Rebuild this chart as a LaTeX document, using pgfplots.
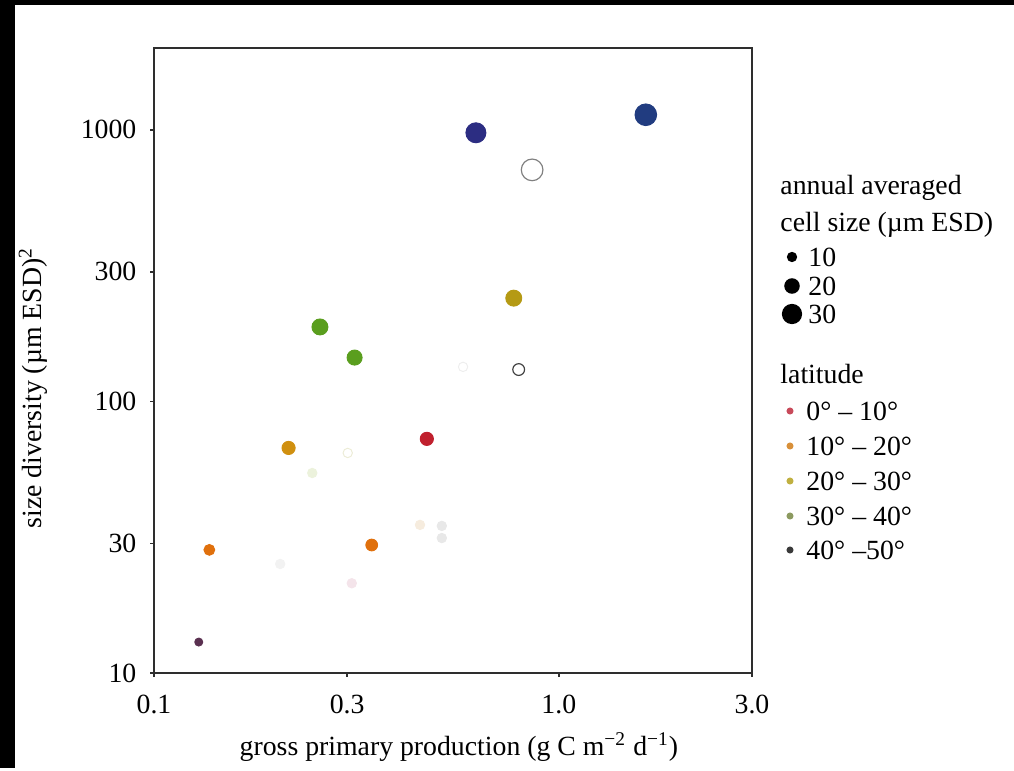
\documentclass[border=0pt]{standalone}
\usepackage{pgfplots}
\pgfplotsset{compat=1.18}
\usepackage{fontspec}
\setmainfont{Liberation Serif}

\definecolor{axisgray}{HTML}{2E2E2E}
\definecolor{navyA}{HTML}{2C2D82}
\definecolor{navyB}{HTML}{213C80}
\definecolor{olivegold}{HTML}{B59A14}
\definecolor{leafgreen}{HTML}{5A9E1E}
\definecolor{crimson}{HTML}{C0202E}
\definecolor{ambergold}{HTML}{D09010}
\definecolor{tangerine}{HTML}{E0700C}
\definecolor{plum}{HTML}{5A3050}
% latitude legend
\definecolor{latA}{HTML}{C84A5A}
\definecolor{latB}{HTML}{D8903A}
\definecolor{latC}{HTML}{C0B040}
\definecolor{latD}{HTML}{8C9A60}
\definecolor{latE}{HTML}{3A3A3A}

\begin{document}
\fontsize{11.8}{14}\selectfont
\begin{tikzpicture}
% page frame (1 px = 0.425pt, origin = top left of the image)
\begin{scope}[shift={(-65.45pt,286.025pt)}, x=0.425pt, y=-0.425pt]
\path[use as bounding box] (0,0) rectangle (1014,768);
\fill[black] (0,0) rectangle (15,768);
\fill[black] (0,0) rectangle (1014,5);
\end{scope}

\begin{axis}[
    at={(0,0)}, anchor=south west,
    scale only axis,
    width=254.15pt, height=265.6pt,
    xmode=log, ymode=log,
    xmin=0.1, xmax=3, ymin=10, ymax=2000,
    xtick={0.1,0.3,1,3}, xticklabels={0.1,0.3,1.0,3.0},
    ytick={10,30,100,300,1000}, yticklabels={10,30,100,300,1000},
    minor xtick={}, minor ytick={},
    tick align=outside, xtick pos=left, ytick pos=left,
    major tick length=1.7pt,
    axis line style={axisgray, line width=0.9pt},
    tick style={axisgray, line width=0.6pt},
    xticklabel shift=3.5pt, yticklabel shift=1.7pt,
    xlabel={gross primary production (g C m\textsuperscript{−2} d\textsuperscript{−1})},
    ylabel={size diversity (µm ESD)\textsuperscript{2}},
    xlabel style={at={(axis description cs:0.51,-0.118)}, anchor=center},
    ylabel style={at={(axis description cs:-0.202,0.456)}, anchor=center},
    clip=false,
]
% barely visible points
\addplot[only marks, mark=*, mark size=2pt, mark options={draw={rgb,255:red,238;green,238;blue,238}, fill=white}] coordinates {(0.580,134)};
\addplot[only marks, mark=*, mark size=2pt, mark options={draw={rgb,255:red,236;green,236;blue,214}, fill=white}] coordinates {(0.301,64.6)};
\addplot[only marks, mark=*, mark size=2pt, mark options={draw={rgb,255:red,236;green,242;blue,220}, fill={rgb,255:red,236;green,242;blue,220}}] coordinates {(0.246,54.5)};
\addplot[only marks, mark=*, mark size=2pt, mark options={draw={rgb,255:red,246;green,236;blue,222}, fill={rgb,255:red,246;green,236;blue,222}}] coordinates {(0.454,35.1)};
\addplot[only marks, mark=*, mark size=2pt, mark options={draw={rgb,255:red,232;green,232;blue,232}, fill={rgb,255:red,232;green,232;blue,232}}] coordinates {(0.514,34.8) (0.514,31.4)};
\addplot[only marks, mark=*, mark size=2pt, mark options={draw={rgb,255:red,242;green,242;blue,242}, fill={rgb,255:red,242;green,242;blue,242}}] coordinates {(0.205,25.2)};
\addplot[only marks, mark=*, mark size=2pt, mark options={draw={rgb,255:red,244;green,228;blue,234}, fill={rgb,255:red,244;green,228;blue,234}}] coordinates {(0.308,21.4)};
% visible points
\addplot[only marks, mark=*, mark size=4.25pt, color=navyA] coordinates {(0.624,975)};
\addplot[only marks, mark=*, mark size=4.6pt, color=navyB] coordinates {(1.64,1136)};
\addplot[only marks, mark=*, mark size=4.6pt, mark options={draw=gray, fill=white, line width=0.5pt}] coordinates {(0.859,712)};
\addplot[only marks, mark=*, mark size=3.4pt, color=olivegold] coordinates {(0.774,240)};
\addplot[only marks, mark=*, mark size=3.4pt, color=leafgreen] coordinates {(0.257,188)};
\addplot[only marks, mark=*, mark size=3.2pt, color=leafgreen] coordinates {(0.313,145)};
\addplot[only marks, mark=*, mark size=2.5pt, mark options={draw=darkgray, fill=white, line width=0.5pt}] coordinates {(0.796,131)};
\addplot[only marks, mark=*, mark size=2.8pt, color=crimson] coordinates {(0.472,72.8)};
\addplot[only marks, mark=*, mark size=2.8pt, color=ambergold] coordinates {(0.215,67.4)};
\addplot[only marks, mark=*, mark size=2.3pt, color=tangerine] coordinates {(0.137,28.4)};
\addplot[only marks, mark=*, mark size=2.5pt, color=tangerine] coordinates {(0.345,29.6)};
\addplot[only marks, mark=*, mark size=1.7pt, color=plum] coordinates {(0.129,13.0)};
\end{axis}

% legends (pixel coordinates of the reference)
\begin{scope}[shift={(-65.45pt,286.025pt)}, x=0.425pt, y=-0.425pt]
\node[anchor=west, inner sep=0pt] at (780,188) {annual averaged};
\node[anchor=west, inner sep=0pt] at (780,225) {cell size (µm ESD)};
\fill[black] (792,257) circle[radius=2.2pt];
\fill[black] (792,286) circle[radius=3.3pt];
\fill[black] (792,314) circle[radius=4.3pt];
\node[anchor=west, inner sep=0pt] at (808,257) {10};
\node[anchor=west, inner sep=0pt] at (808,286) {20};
\node[anchor=west, inner sep=0pt] at (808,314) {30};
\node[anchor=west, inner sep=0pt] at (780,374) {latitude};
\fill[latA] (790,411) circle[radius=1.5pt];
\fill[latB] (790,446) circle[radius=1.5pt];
\fill[latC] (790,481) circle[radius=1.5pt];
\fill[latD] (790,516) circle[radius=1.5pt];
\fill[latE] (790,550) circle[radius=1.5pt];
\node[anchor=west, inner sep=0pt] at (806,411) {0° – 10°};
\node[anchor=west, inner sep=0pt] at (806,446) {10° – 20°};
\node[anchor=west, inner sep=0pt] at (806,481) {20° – 30°};
\node[anchor=west, inner sep=0pt] at (806,516) {30° – 40°};
\node[anchor=west, inner sep=0pt] at (806,550) {40° –50°};
\end{scope}
\end{tikzpicture}
\end{document}
